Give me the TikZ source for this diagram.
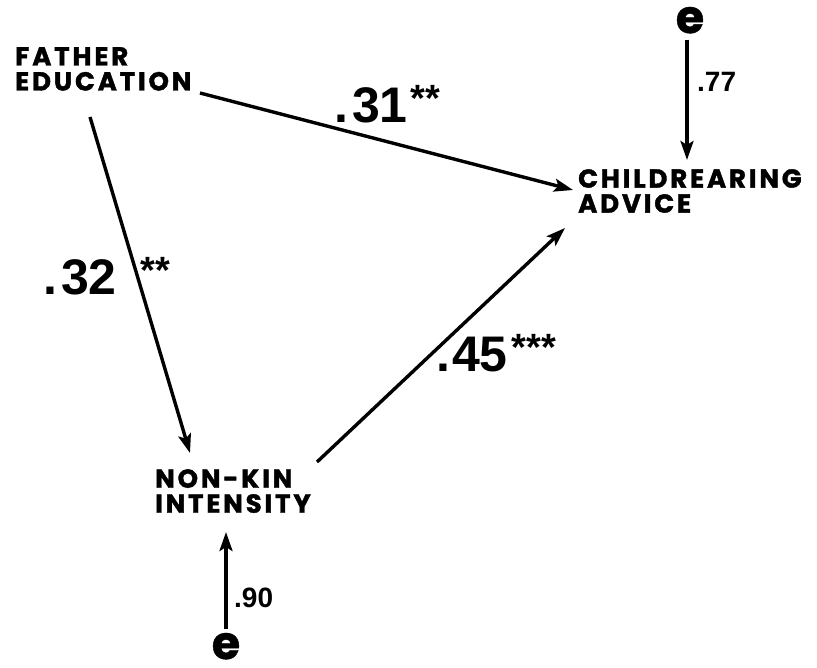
\documentclass[tikz,border=0pt]{standalone}
\usepackage{fontspec}
\setmainfont{Liberation Sans}
\newfontfamily\lab{Poppins}[LetterSpace=11, BoldFeatures={FakeBold=1.5}]
\newfontfamily\ebig{Poppins}[BoldFeatures={FakeBold=1}]
\newfontfamily\num{Liberation Sans}
\usetikzlibrary{arrows.meta}
\tikzset{
  varbox/.style={inner sep=0pt, anchor=north west, align=left,
    font=\lab\bfseries\fontsize{26}{25}\selectfont},
  coef/.style={inner sep=0pt, anchor=base west, font=\num\bfseries\fontsize{50}{50}\selectfont},
  errlab/.style={inner sep=0pt, anchor=base west, font=\num\bfseries\fontsize{28}{28}\selectfont},
  enode/.style={inner sep=0pt, anchor=base, font=\ebig\bfseries\fontsize{46}{46}\selectfont},
  arr/.style={line width=3.4pt, -{Stealth[length=19pt,width=13pt,inset=4pt]}},
}
\newcommand{\stars}[1]{\raisebox{11pt}{\fontsize{38}{38}\selectfont\bfseries #1}}
\begin{document}
\begin{tikzpicture}[x=1pt,y=-1pt]
\useasboundingbox (0,0) rectangle (817,668);
\node[varbox] (fe) at (15,47) {FATHER\\EDUCATION};
\node[varbox] (ca) at (578,169) {CHILDREARING\\ADVICE};
\node[varbox] (nk) at (155,469) {NON-KIN\\INTENSITY};
\node[enode] (e1) at (690,33) {e};
\node[enode] (e2) at (226,659) {e};
\draw[arr] ([shift={(185,46)}]fe.north west) -- ([shift={(-5,21)}]ca.north west);
\draw[arr] ([shift={(75,70)}]fe.north west) -- ([shift={(35,-16)}]nk.north west);
\draw[arr] ([shift={(162,-7)}]nk.north west) -- ([shift={(-13,59)}]ca.north west);
\draw[arr] ([shift={(-3,6)}]e1.south) -- ([shift={(109,-9)}]ca.north west);
\draw[arr] ([shift={(0,-4)}]e2.north) -- ([shift={(71,63)}]nk.north west);
\node[coef] (c31) at (334,123) {.\kern4pt31\hspace{3pt}\stars{**}};
\node[coef] (c32) at (43,295) {.\kern4pt32\hspace{24pt}\stars{**}};
\node[coef] (c45) at (436,372) {.\kern2pt45\hspace{4pt}\stars{***}};
\node[errlab] (l77) at (697,92) {.77};
\node[errlab] (l90) at (234,607) {.90};
\end{tikzpicture}
\end{document}
